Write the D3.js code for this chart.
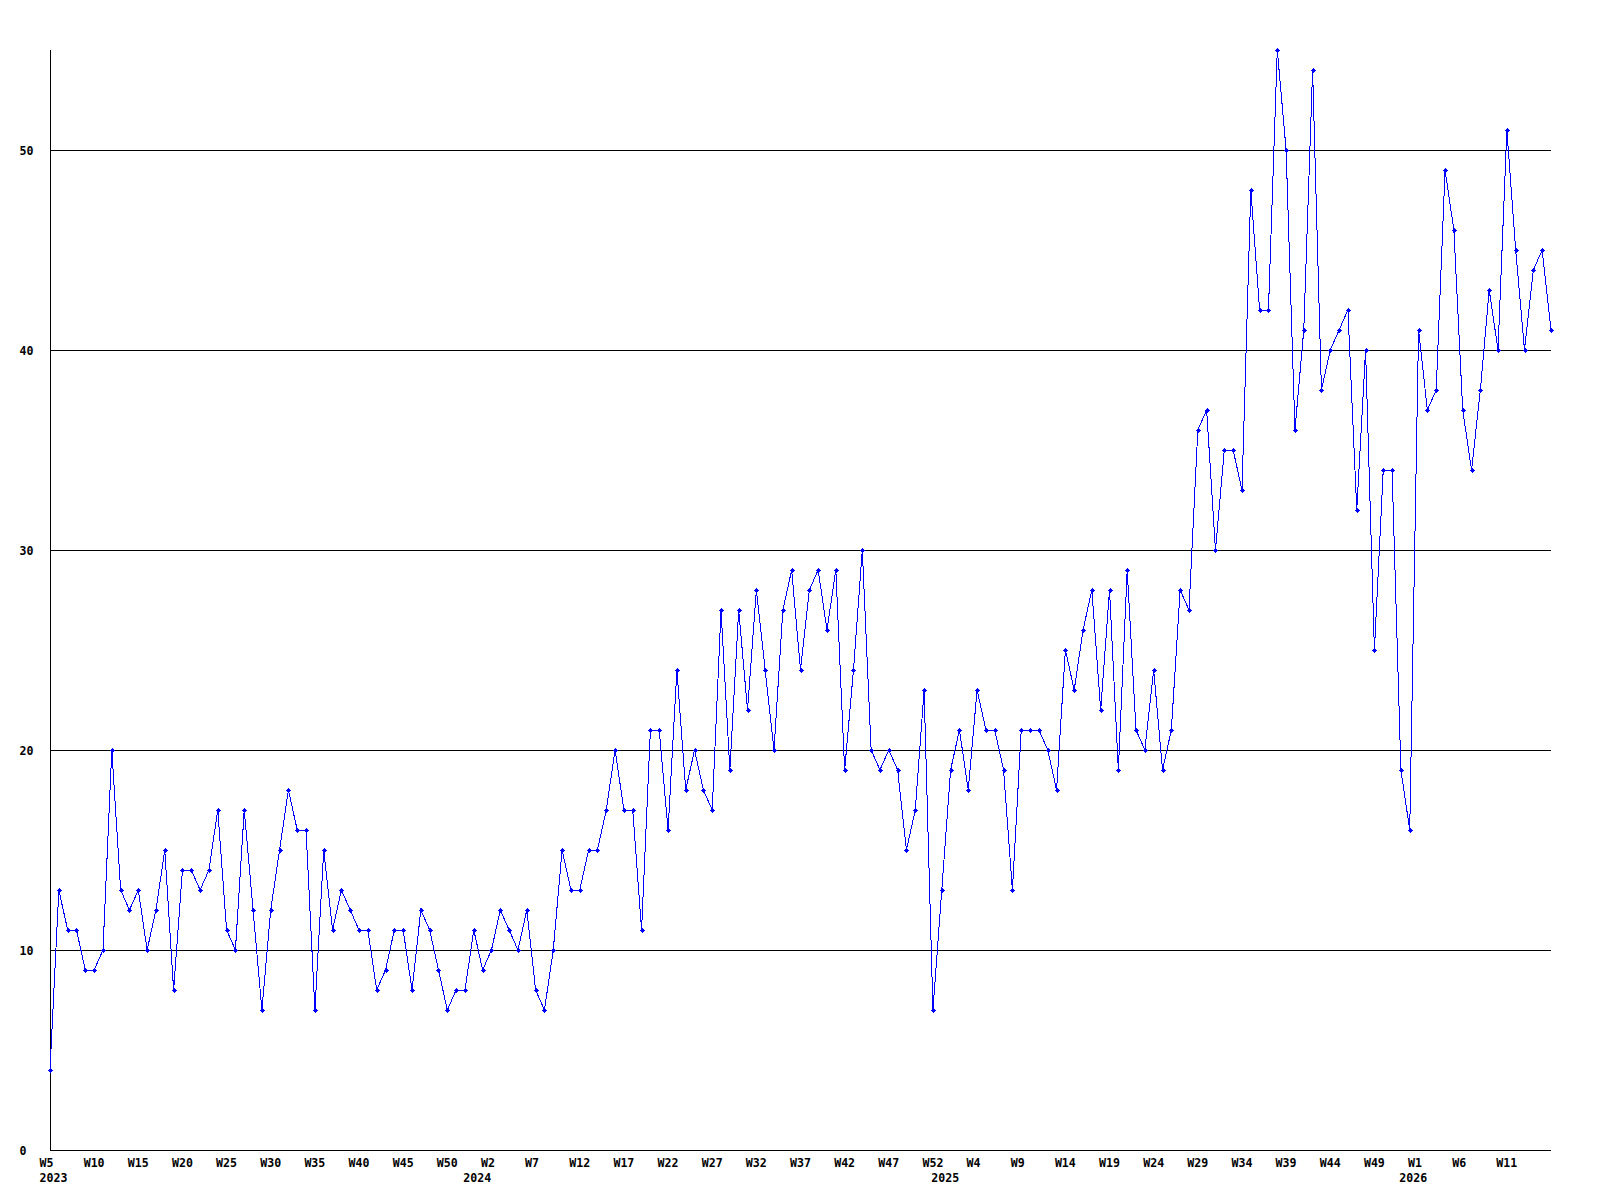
<!DOCTYPE html>
<html>
<head>
<meta charset="utf-8">
<script src="https://cdn.jsdelivr.net/npm/d3@7"></script>
<style>
  html, body { margin: 0; padding: 0; background: #fff; }
  svg { display: block; }
  text { font-family: "DejaVu Sans Mono", "Liberation Mono", monospace; font-weight: bold; font-size: 11.6px; fill: #000; }
</style>
</head>
<body>
<svg id="chart" width="1600" height="1200"></svg>
<script>
// ---- Data ----
// Week ranges covered by the series: [year, first week, last week]
const yearWeeks = [[2023, 5, 52], [2024, 0, 52], [2025, 0, 52], [2026, 0, 16]];

const values2023 = [4,13,11,11,9,9,10,20,13,12,13,10,12,15,8,14,14,13,14,17,11,10,17,12,7,12,15,18,16,16,7,15,11,13,12,11,11,8,9,11,11,8,12,11,9,7,8,8];
const values2024 = [11,9,10,12,11,10,12,8,7,10,15,13,13,15,15,17,20,17,17,11,21,21,16,24,18,20,18,17,27,19,27,22,28,24,20,27,29,24,28,29,26,29,19,24,30,20,19,20,19,15,17,23,7];
const values2025 = [13,19,21,18,23,21,21,19,13,21,21,21,20,18,25,23,26,28,22,28,19,29,21,20,24,19,21,28,27,36,37,30,35,35,33,48,42,42,55,50,36,41,54,38,40,41,42,32,40,25,34,34,19];
const values2026 = [16,41,37,38,49,46,37,34,38,43,40,51,45,40,44,45,41];

const yTickValues = [0, 10, 20, 30, 40, 50];
const yMax = 55;
const tickEvery = 5;

(function () {
  // ---- Build categories ----
  const categories = [];
  yearWeeks.forEach(([yr, w0, w1]) => {
    for (let w = w0; w <= w1; w++) categories.push({ key: yr + "-W" + w, year: yr, week: "W" + w });
  });
  const values = [...values2023, ...values2024, ...values2025, ...values2026];
  const data = categories.map((c, i) => ({ ...c, value: values[i] }));

  // ---- Layout ----
  const mLeft = 50, mRight = 1551, mTop = 50, mBottom = 1150;
  const svg = d3.select("#chart");
  svg.append("rect").attr("width", 1600).attr("height", 1200).attr("fill", "#fff");

  const x = d3.scalePoint().domain(categories.map(c => c.key)).range([mLeft, mRight]);
  const y = d3.scaleLinear().domain([0, yMax]).range([mBottom, mTop]);

  // Gridlines
  svg.append("g").selectAll("line")
    .data(yTickValues.filter(v => v > 0))
    .join("line")
    .attr("x1", mLeft).attr("x2", mRight)
    .attr("y1", d => Math.round(y(d)) + 0.5).attr("y2", d => Math.round(y(d)) + 0.5)
    .attr("stroke", "#000").attr("stroke-width", 1)
    .attr("shape-rendering", "crispEdges");

  // Axis lines
  svg.append("line").attr("x1", mLeft + 0.5).attr("x2", mLeft + 0.5).attr("y1", mTop).attr("y2", mBottom + 1)
    .attr("stroke", "#000").attr("shape-rendering", "crispEdges");
  svg.append("line").attr("x1", mLeft).attr("x2", mRight).attr("y1", mBottom + 0.5).attr("y2", mBottom + 0.5)
    .attr("stroke", "#000").attr("shape-rendering", "crispEdges");

  // Y axis labels
  const yAxis = d3.axisLeft(y).tickValues(yTickValues).tickSize(0).tickFormat(d3.format("d"));
  const gy = svg.append("g").attr("transform", `translate(${mLeft},0)`).call(yAxis);
  gy.select(".domain").remove();
  gy.attr("font-family", null).attr("font-size", null);
  gy.selectAll("text")
    .attr("x", 19.5 - mLeft).attr("dy", null).attr("y", 4.5)
    .attr("text-anchor", "start");

  // X axis: week labels
  const weekTicks = data.filter((d, i) => i % tickEvery === 0 && i < data.length - 1).map(d => d.key);
  const weekOf = new Map(data.map(d => [d.key, d.week]));
  const xAxis = d3.axisBottom(x).tickValues(weekTicks).tickSize(0).tickFormat(k => weekOf.get(k));
  const gx = svg.append("g").attr("transform", `translate(0,${mBottom})`).call(xAxis);
  gx.select(".domain").remove();
  gx.attr("font-family", null).attr("font-size", null).attr("text-anchor", null);
  gx.selectAll("text").attr("text-anchor", "start").attr("x", -11).attr("dy", null).attr("y", 16.5);

  // X axis: year labels at the first point of each year
  const yearTicks = [];
  data.forEach((d, i) => { if (i === 0 || d.year !== data[i - 1].year) yearTicks.push(d.key); });
  const yearOf = new Map(data.map(d => [d.key, d.year]));
  const xAxisYears = d3.axisBottom(x).tickValues(yearTicks).tickSize(0).tickFormat(k => String(yearOf.get(k)));
  const gxy = svg.append("g").attr("transform", `translate(0,${mBottom})`).call(xAxisYears);
  gxy.select(".domain").remove();
  gxy.attr("font-family", null).attr("font-size", null).attr("text-anchor", null);
  gxy.selectAll("text").attr("text-anchor", "start").attr("x", -11).attr("dy", null).attr("y", 32);

  // Series line
  const line = d3.line().x(d => x(d.key)).y(d => y(d.value));
  svg.append("path").datum(data)
    .attr("d", line)
    .attr("fill", "none").attr("stroke", "#0000ff").attr("stroke-width", 1)
    .attr("shape-rendering", "crispEdges");

  // Markers: small plus with a 3x3 centre
  const markerPath = "M-0.5,-2.5L0.5,-2.5L0.5,-1.5L1.5,-1.5L1.5,-0.5L2.5,-0.5L2.5,0.5L1.5,0.5L1.5,1.5L0.5,1.5L0.5,2.5L-0.5,2.5L-0.5,1.5L-1.5,1.5L-1.5,0.5L-2.5,0.5L-2.5,-0.5L-1.5,-0.5L-1.5,-1.5L-0.5,-1.5Z";
  svg.append("g").selectAll("path")
    .data(data)
    .join("path")
    .attr("transform", d => `translate(${Math.round(x(d.key)) + 0.5},${Math.round(y(d.value)) + 0.5})`)
    .attr("d", markerPath)
    .attr("fill", "#0000ff")
    .attr("shape-rendering", "crispEdges");
})();
</script>
</body>
</html>
